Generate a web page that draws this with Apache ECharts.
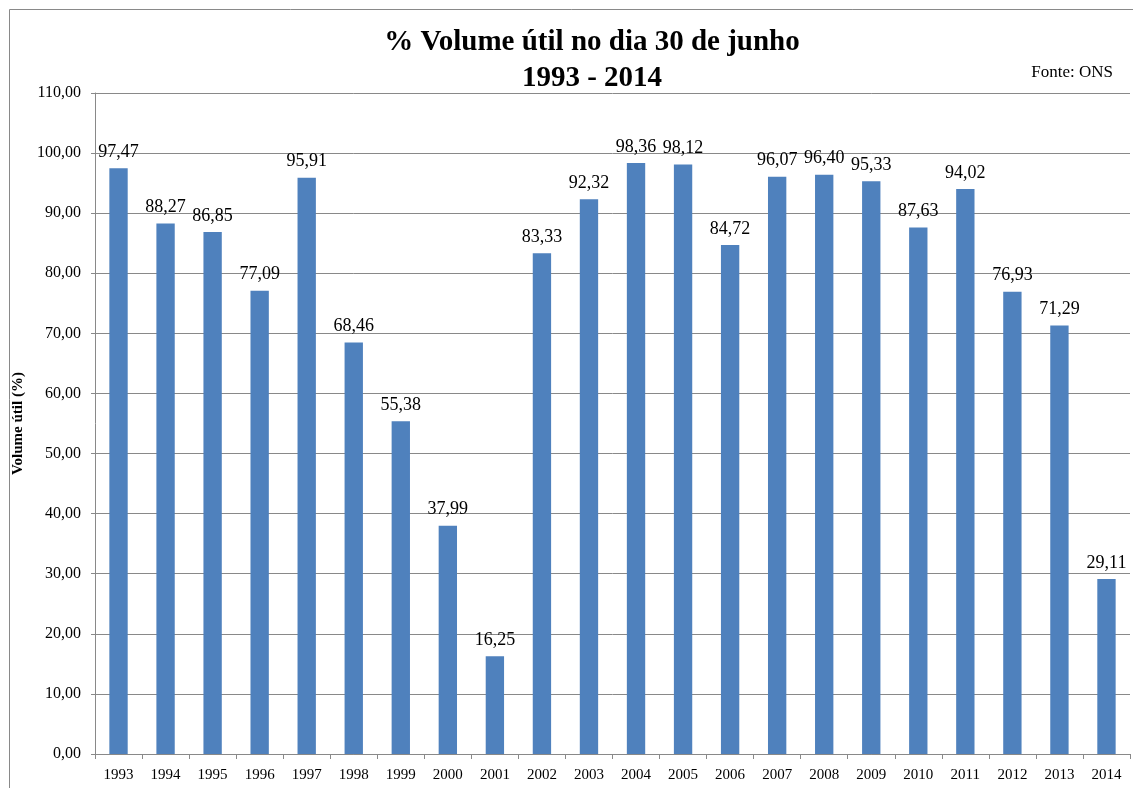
<!DOCTYPE html>
<html><head><meta charset="utf-8">
<script src="https://cdn.jsdelivr.net/npm/echarts@6/dist/echarts.min.js"></script>
<style>html,body{margin:0;padding:0;background:#fff}#c{width:1133px;height:788px}</style>
</head><body><div id="c"></div>
<script>
const years = ['1993','1994','1995','1996','1997','1998','1999','2000','2001','2002','2003','2004','2005','2006','2007','2008','2009','2010','2011','2012','2013','2014'];
const volume = [97.47,88.27,86.85,77.09,95.91,68.46,55.38,37.99,16.25,83.33,92.32,98.36,98.12,84.72,96.07,96.40,95.33,87.63,94.02,76.93,71.29,29.11];
const font = '"Liberation Serif","Times New Roman",serif';
const fmt = v => v.toFixed(2).replace('.', ',');
const chart = echarts.init(document.getElementById('c'));
chart.setOption({
  animation:false,
  backgroundColor:'#fff',
  graphic:[
    {type:'rect',shape:{x:9.5,y:9.5,width:1140,height:800},style:{fill:'none',stroke:'#898989',lineWidth:1},silent:true},
    {type:'text',x:592,y:43,style:{text:'% Volume útil no dia 30 de junho',textAlign:'center',textVerticalAlign:'middle',font:'bold 29px '+font,fill:'#000'}},
    {type:'text',x:592,y:79,style:{text:'1993 - 2014',textAlign:'center',textVerticalAlign:'middle',font:'bold 29px '+font,fill:'#000'}},
    {type:'text',x:1113,y:73,style:{text:'Fonte: ONS',textAlign:'right',textVerticalAlign:'middle',font:'17px '+font,fill:'#000'}}
  ],
  grid:{left:95,right:3,top:93,bottom:34},
  xAxis:{type:'category',data:years,
    axisLine:{lineStyle:{color:'#898989'}},
    axisTick:{show:true,alignWithLabel:false,length:5,lineStyle:{color:'#898989'}},
    axisLabel:{fontFamily:font,fontSize:15,color:'#000',margin:14,interval:0}},
  yAxis:{type:'value',min:0,max:110,interval:10,
    name:'Volume útil (%)',nameLocation:'middle',nameGap:68,nameRotate:90,
    nameTextStyle:{fontFamily:font,fontWeight:'bold',fontSize:15,color:'#000'},
    axisLine:{show:true,lineStyle:{color:'#898989'}},
    axisTick:{show:true,length:4,inside:false,lineStyle:{color:'#898989'}},
    splitLine:{lineStyle:{color:'#898989'}},
    axisLabel:{fontFamily:font,fontSize:16,color:'#000',margin:14,formatter:v=>fmt(v)}},
  series:[{type:'bar',data:volume,barWidth:'39%',
    itemStyle:{color:'#4F81BD'},
    label:{show:true,position:'top',distance:7,fontFamily:font,fontSize:18,color:'#000',formatter:p=>fmt(p.value)}}]
});
</script></body></html>
